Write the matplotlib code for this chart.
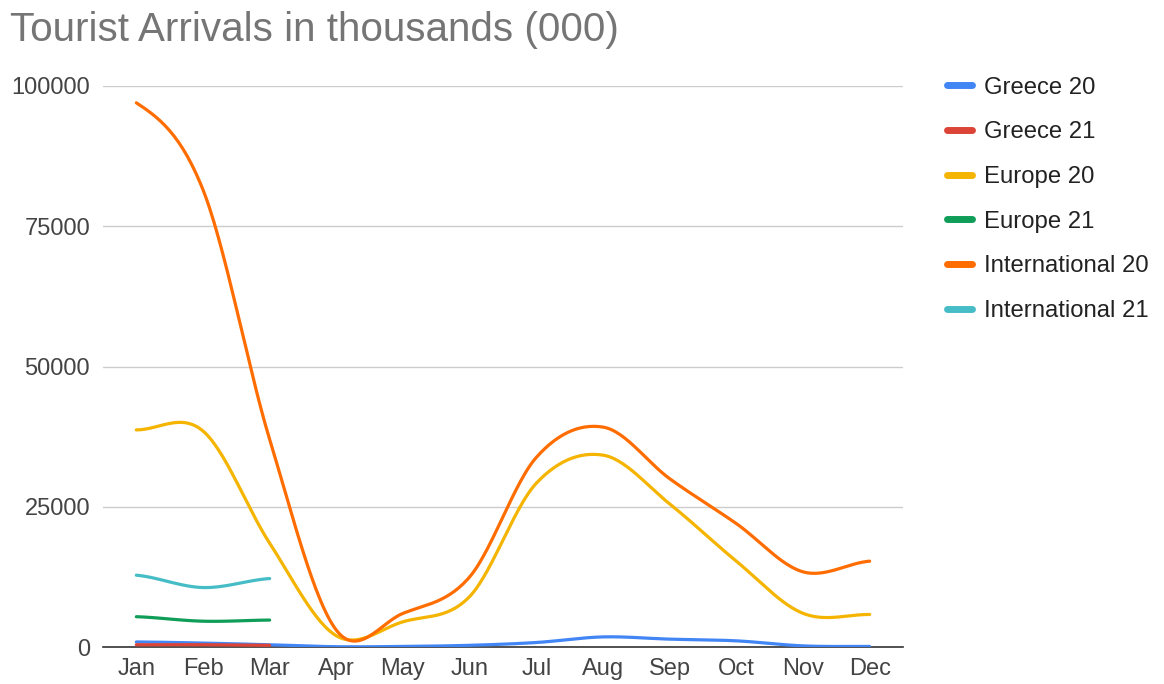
import numpy as np
import matplotlib
matplotlib.use("Agg")
import matplotlib.pyplot as plt

months = ["Jan", "Feb", "Mar", "Apr", "May", "Jun", "Jul", "Aug", "Sep", "Oct", "Nov", "Dec"]
greece_20 = [900, 700, 400, 50, 100, 300, 800, 1800, 1400, 1100, 200, 100]
greece_21 = [400, 400, 300]
europe_20 = [38700, 38500, 18500, 2000, 4500, 9000, 29200, 34200, 25500, 15300, 6000, 5800]
europe_21 = [5400, 4600, 4800]
international_20 = [97000, 81500, 37000, 3000, 6000, 12500, 33800, 39200, 30000, 22000, 13400, 15300]
international_21 = [12800, 10600, 12200]

series_names = ["Greece 20", "Greece 21", "Europe 20", "Europe 21", "International 20", "International 21"]
series_values = [greece_20, greece_21, europe_20, europe_21, international_20, international_21]
colors = ["#4285F4", "#DB4437", "#F4B400", "#0F9D58", "#FF6D01", "#46BDC6"]


def smooth(y, n=30):
    """Catmull-Rom spline through the data points (display smoothing only)."""
    y = np.asarray(y, dtype=float)
    x = np.arange(len(y), dtype=float)
    if len(y) < 3:
        return x, y
    m = np.zeros_like(y)
    m[1:-1] = (y[2:] - y[:-2]) / 2.0
    m[0] = (y[1] - y[0]) * 0.5
    m[-1] = (y[-1] - y[-2]) * 0.5
    xs, ys = [], []
    for i in range(len(y) - 1):
        t = np.linspace(0, 1, n, endpoint=False)
        h00 = 2 * t**3 - 3 * t**2 + 1
        h10 = t**3 - 2 * t**2 + t
        h01 = -2 * t**3 + 3 * t**2
        h11 = t**3 - t**2
        ys.append(h00 * y[i] + h10 * m[i] + h01 * y[i + 1] + h11 * m[i + 1])
        xs.append(x[i] + t)
    xs.append([x[-1]])
    ys.append([y[-1]])
    return np.concatenate(xs), np.concatenate(ys)


plt.rcParams["font.family"] = ["Liberation Sans", "DejaVu Sans"]

fig = plt.figure(figsize=(11.64, 6.84), dpi=100)
ax = fig.add_axes([103 / 1164, 37 / 684, 800 / 1164, 561 / 684])

for name, vals, c in zip(series_names, series_values, colors):
    xs, ys = smooth(vals)
    ax.plot(xs, np.clip(ys, 0, None), color=c, lw=2.3, label=name, solid_capstyle="round", zorder=3)

ax.set_xlim(-0.5, 11.5)
ax.set_ylim(0, 100000)
ax.set_yticks([0, 25000, 50000, 75000, 100000])
ax.set_yticklabels(["0", "25000", "50000", "75000", "100000"])
ax.set_xticks(range(len(months)))
ax.set_xticklabels(months)
ax.tick_params(axis="both", length=0, labelsize=17, colors="#444444")
ax.tick_params(axis="y", pad=9.3)
ax.tick_params(axis="x", pad=8)
ax.grid(axis="y", color="#cccccc", lw=1)
ax.set_axisbelow(True)
for s in ["top", "right", "left"]:
    ax.spines[s].set_visible(False)
ax.spines["bottom"].set_color("#333333")
ax.spines["bottom"].set_linewidth(1.2)
ax.spines["bottom"].set_zorder(2)

fig.text(10 / 1164, 1 - 41 / 684, "Tourist Arrivals in thousands (000)", fontsize=29.1,
         color="#757575", ha="left", va="baseline")

leg = fig.legend(loc="upper left", bbox_to_anchor=(925 / 1164, 1 - 55 / 684), frameon=False,
                 fontsize=17.2, labelspacing=0.95, handlelength=1.05, handletextpad=0.5,
                 labelcolor="#222222")
for h in leg.get_lines():
    h.set_linewidth(5)
    h.set_solid_capstyle("round")

fig.savefig("out.png", dpi=100, facecolor="white")
